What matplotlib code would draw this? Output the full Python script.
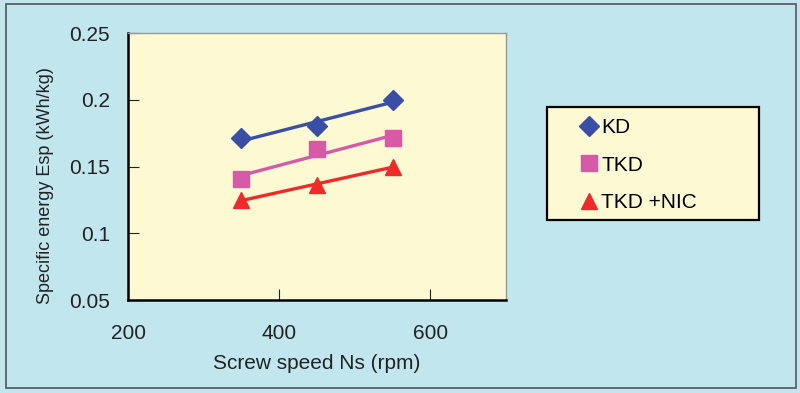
import matplotlib.pyplot as plt
import numpy as np
from matplotlib.patches import Rectangle

plt.rcParams["font.family"] = ["Liberation Sans", "DejaVu Sans"]

speed = [350, 450, 550]
kd = [0.171, 0.180, 0.200]
tkd = [0.141, 0.163, 0.171]
tkd_nic = [0.125, 0.136, 0.150]

series = [
    ("KD", kd, "#3b4ea6", "D", 10),
    ("TKD", tkd, "#d65aa8", "s", 11),
    ("TKD +NIC", tkd_nic, "#ee2a2a", "^", 12),
]

fig = plt.figure(figsize=(8, 3.93), dpi=100, facecolor="#c2e6ee")
fig.patches.append(Rectangle((0.007, 0.012), 0.988, 0.978, transform=fig.transFigure,
                             fill=False, edgecolor="#555555", lw=1.2))
ax = fig.add_axes([0.16, 0.2366, 0.4725, 0.6794])
ax.set_facecolor("#fdf9d2")

x = np.array(speed)
for name, y, col, mk, ms in series:
    # linear trend line through the points
    k, b = np.polyfit(x, y, 1)
    ax.plot(x, k * x + b, color=col, lw=2.4)
    ax.plot(x, y, linestyle="none", marker=mk, color=col, markersize=ms, label=name)

ax.set_xlim(200, 700)
ax.set_ylim(0.05, 0.25)
ax.set_xticks([200, 400, 600])
ax.set_yticks([0.05, 0.1, 0.15, 0.2, 0.25])
ax.set_yticklabels(["0.05", "0.1", "0.15", "0.2", "0.25"])
ax.tick_params(axis="x", direction="in", length=8, pad=17, labelsize=15, colors="#222222")
ax.tick_params(axis="y", direction="in", length=8, pad=13, labelsize=15, colors="#222222")
for s in ["left", "bottom"]:
    ax.spines[s].set_color("black")
    ax.spines[s].set_linewidth(1.8)
for s in ["right", "top"]:
    ax.spines[s].set_color("#999999")
    ax.spines[s].set_linewidth(1.0)

ax.set_xlabel("Screw speed Ns (rpm)", fontsize=15, color="#222222", labelpad=8)
ax.set_ylabel("Specific energy Esp (kWh/kg)", fontsize=13, color="#222222")
ax.yaxis.set_label_coords(-0.197, 0.43)

# legend box
fig.patches.append(Rectangle((0.684, 0.44), 0.265, 0.288, transform=fig.transFigure,
                             facecolor="#fdf9d2", edgecolor="black", lw=1.6, zorder=1))
leg = fig.legend(loc="upper left", bbox_to_anchor=(0.723, 0.70), fontsize=15,
                 frameon=False, handletextpad=0.1, labelspacing=0.9, borderpad=0,
                 handlelength=1.0, borderaxespad=0)

fig.savefig("out.png", dpi=100, facecolor=fig.get_facecolor())
